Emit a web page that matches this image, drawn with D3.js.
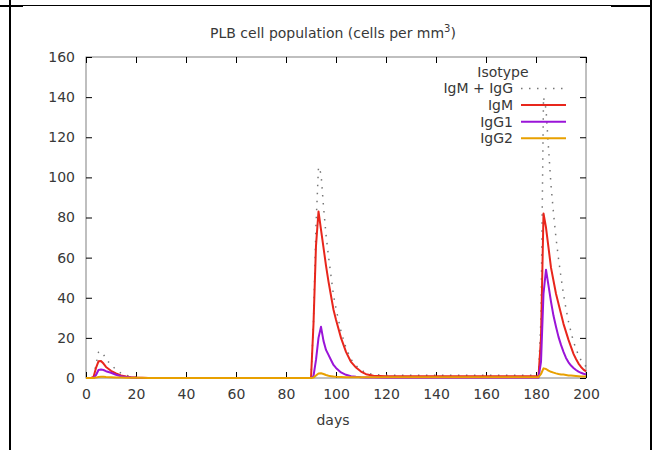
<!DOCTYPE html>
<html>
<head>
<meta charset="utf-8">
<script src="https://cdn.jsdelivr.net/npm/d3@7"></script>
<style>
body { margin: 0; background: #fff; }
text { font-family: "DejaVu Sans", sans-serif; fill: #383838; }
</style>
</head>
<body>
<svg id="chart" width="653" height="450"></svg>
<script>
// sample days (day 0 .. 200)
var days = [0, 2, 3, 4, 5, 6, 7, 8, 10, 12, 14, 16, 18, 20, 25, 89,
  90, 91, 92, 93, 94, 95, 96, 97, 98, 99, 100, 102, 104, 106, 108, 110, 112, 115, 120,
  180, 181, 182, 183, 184, 185, 186, 187, 188, 189, 190, 191, 192, 193, 194, 195, 196, 197, 198, 199, 200];

// cells per mm3
var igm = [0, 0, 0.5, 5, 8.3, 8.5, 7.2, 5.5, 3.6, 2.3, 1.3, 0.7, 0.4, 0.2, 0, 0,
  0, 27, 66, 83, 74, 65, 56, 48, 41, 34, 29, 20, 13, 8, 5.2, 3.2, 1.9, 1.1, 0.9,
  0.9, 0.9, 20, 82, 75, 65, 55, 48.5, 42, 37, 32, 27, 23, 19, 15.5, 12, 9.5, 7.2, 5.5, 4.2, 3.3];

var igg1 = [0, 0, 0, 1.5, 4.0, 4.2, 4.0, 3.4, 2.6, 1.6, 0.9, 0.5, 0.3, 0.1, 0, 0,
  0, 1, 9, 20, 25.5, 18.5, 14, 11.5, 9, 6.5, 5, 2.8, 1.6, 0.9, 0.6, 0.4, 0.3, 0.2, 0.1,
  0.1, 0.1, 8, 42, 54, 46, 38, 31, 25.5, 20.5, 16.5, 13, 10, 7.8, 6.2, 5, 4, 3.2, 2.6, 2.1, 1.8];

var igg2 = [0, 0, 0, 0.2, 0.5, 0.6, 0.6, 0.5, 0.4, 0.3, 0.2, 0.15, 0.1, 0.1, 0, 0,
  0, 0.2, 1.2, 2.2, 2.4, 2.0, 1.5, 1.1, 0.9, 0.7, 0.6, 0.5, 0.4, 0.4, 0.4, 0.4, 0.4, 0.4, 0.4,
  0.4, 0.4, 2, 4.8, 4.5, 3.7, 3.1, 2.7, 2.3, 2.0, 1.8, 1.7, 1.5, 1.3, 1.2, 1.1, 1.0, 0.9, 0.8, 0.7, 0.7];

var total = [0, 0, 0.5, 6.7, 12.8, 13.3, 11.8, 9.4, 6.6, 4.2, 2.4, 1.35, 0.8, 0.4, 0, 0,
  0, 28.2, 76.2, 105.2, 101.9, 85.5, 71.5, 60.6, 50.9, 41.2, 34.6, 23.3, 15, 9.3, 6.2, 4.0, 2.6, 1.7, 1.4,
  1.4, 1.4, 30, 140, 134, 114.7, 96.1, 82.2, 69.8, 59.5, 50.3, 41.7, 34.5, 28.1, 22.9, 18.1, 14.5, 11.3, 8.9, 7.0, 5.8];

var seriesNames = ["IgM + IgG", "IgM", "IgG1", "IgG2"];
var seriesColors = ["#777777", "#e8261c", "#9a14d8", "#e8a000"];
var xTickValues = [0, 20, 40, 60, 80, 100, 120, 140, 160, 180, 200];
var yTickValues = [0, 20, 40, 60, 80, 100, 120, 140, 160];

var svg = d3.select("#chart");
var plotLeft = 86, plotRight = 586, plotTop = 57, plotBottom = 378;

var x = d3.scaleLinear().domain([0, 200]).range([plotLeft, plotRight]);
var y = d3.scaleLinear().domain([0, 160]).range([plotBottom, plotTop]);

// page frame lines
svg.append("line").attr("x1", 10).attr("x2", 10).attr("y1", 0).attr("y2", 450)
  .attr("stroke", "#000").attr("stroke-width", 2);
svg.append("line").attr("x1", 651).attr("x2", 651).attr("y1", 0).attr("y2", 450)
  .attr("stroke", "#000").attr("stroke-width", 2);
svg.append("line").attr("x1", 0).attr("x2", 23).attr("y1", 6).attr("y2", 6)
  .attr("stroke", "#000").attr("stroke-width", 2);
svg.append("line").attr("x1", 23).attr("x2", 611).attr("y1", 5.5).attr("y2", 5.5)
  .attr("stroke", "#000").attr("stroke-width", 1);
svg.append("line").attr("x1", 611).attr("x2", 651).attr("y1", 6).attr("y2", 6)
  .attr("stroke", "#000").attr("stroke-width", 2);

// plot border
svg.append("rect")
  .attr("x", plotLeft).attr("y", plotTop)
  .attr("width", plotRight - plotLeft).attr("height", plotBottom - plotTop)
  .attr("fill", "none").attr("stroke", "#808080").attr("stroke-width", 1);

function styleAxis(g) {
  g.select(".domain").remove();
  g.selectAll(".tick line").attr("stroke", "#000");
  g.selectAll("text").style("font-size", "14px").attr("fill", "#383838");
}

svg.append("g").attr("transform", "translate(0," + plotBottom + ")")
  .call(d3.axisBottom(x).tickValues(xTickValues).tickSize(-6).tickPadding(11))
  .call(styleAxis);
svg.append("g").attr("transform", "translate(0," + plotTop + ")")
  .call(d3.axisTop(x).tickValues(xTickValues).tickSize(-6).tickFormat(""))
  .call(styleAxis);
svg.append("g").attr("transform", "translate(" + plotLeft + ",0)")
  .call(d3.axisLeft(y).tickValues(yTickValues).tickSize(-6).tickPadding(11))
  .call(styleAxis);
svg.append("g").attr("transform", "translate(" + plotRight + ",0)")
  .call(d3.axisRight(y).tickValues(yTickValues).tickSize(-6).tickFormat(""))
  .call(styleAxis);

// title
var title = svg.append("text").attr("x", 333).attr("y", 38)
  .attr("text-anchor", "middle").style("font-size", "14px");
title.append("tspan").text("PLB cell population (cells per mm");
title.append("tspan").attr("dy", -6).style("font-size", "10px").text("3");
title.append("tspan").attr("dy", 6).text(")");

svg.append("text").attr("x", 333).attr("y", 425)
  .attr("text-anchor", "middle").style("font-size", "14px").text("days");

// curves
var allSeries = [total, igm, igg1, igg2];
var line = d3.line()
  .x(function(d, i) { return x(days[i]); })
  .y(function(d) { return y(d); });

allSeries.forEach(function(vals, k) {
  var p = svg.append("path")
    .datum(vals)
    .attr("d", line)
    .attr("fill", "none")
    .attr("stroke", seriesColors[k])
    .attr("stroke-linejoin", "round");
  if (k == 0) {
    p.attr("stroke-width", 1.5).attr("stroke-dasharray", "1.5,6.5");
  } else {
    p.attr("stroke-width", 2);
  }
});

// legend
svg.append("text").attr("x", 503).attr("y", 72).attr("dy", "0.35em")
  .attr("text-anchor", "middle").style("font-size", "14px").text("Isotype");

seriesNames.forEach(function(name, k) {
  var ly = 88.5 + k * 16.6;
  svg.append("text").attr("x", 513).attr("y", ly).attr("dy", "0.35em")
    .attr("text-anchor", "end").style("font-size", "14px").text(name);
  var s = svg.append("line")
    .attr("x1", 521).attr("x2", 566).attr("y1", ly).attr("y2", ly)
    .attr("stroke", seriesColors[k]);
  if (k == 0) {
    s.attr("stroke-width", 1.5).attr("stroke-dasharray", "1.5,6.5");
  } else {
    s.attr("stroke-width", 2);
  }
});
</script>
</body>
</html>
